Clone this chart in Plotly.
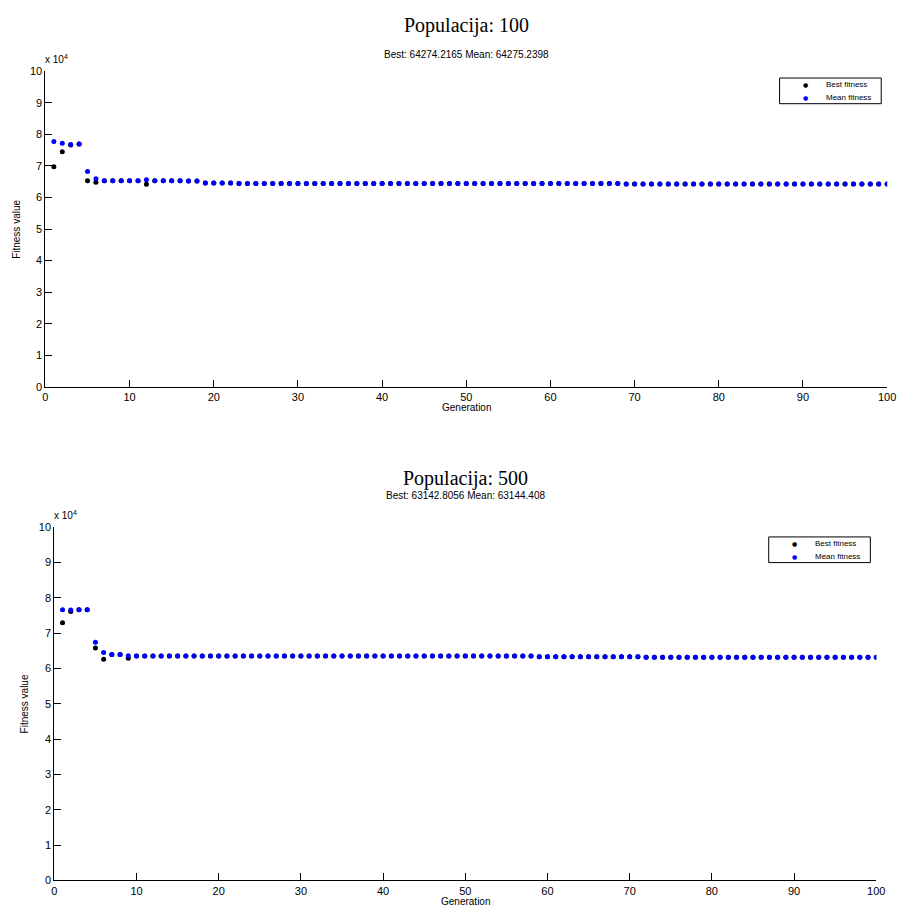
import plotly.graph_objects as go

# ---------------- data ----------------
generations = list(range(1, 101))

mean_100 = [
    77700, 77200, 76800, 76900, 68200, 65900, 65300, 65300, 65300, 65300,
    65300, 65600, 65300, 65300, 65300, 65300, 65200, 65200, 64550, 64550,
    64550, 64550, 64400, 64400, 64400, 64400, 64400, 64400, 64400, 64400,
    64400, 64400, 64400, 64400, 64400, 64400, 64400, 64400, 64400, 64400,
    64400, 64400, 64400, 64400, 64400, 64400, 64400, 64400, 64400, 64400,
    64400, 64400, 64400, 64400, 64400, 64400, 64400, 64400, 64400, 64400,
    64400, 64400, 64400, 64400, 64400, 64400, 64400, 64400, 64280, 64280,
    64280, 64280, 64280, 64280, 64280, 64280, 64280, 64280, 64280, 64280,
    64280, 64280, 64280, 64280, 64280, 64280, 64280, 64280, 64280, 64280,
    64280, 64280, 64280, 64280, 64280, 64280, 64280, 64280, 64280, 64275.2398,
]
best_100 = [
    69700, 74500, 76600, 76900, 65300, 64800, 65300, 65300, 65300, 65300,
    65300, 64200, 65300, 65300, 65300, 65300, 65200, 65200, 64550, 64550,
    64550, 64550, 64400, 64400, 64400, 64400, 64400, 64400, 64400, 64400,
    64400, 64400, 64400, 64400, 64400, 64400, 64400, 64400, 64400, 64400,
    64400, 64400, 64400, 64400, 64400, 64400, 64400, 64400, 64400, 64400,
    64400, 64400, 64400, 64400, 64400, 64400, 64400, 64400, 64400, 64400,
    64400, 64400, 64400, 64400, 64400, 64400, 64400, 64400, 64280, 64280,
    64280, 64280, 64280, 64280, 64280, 64280, 64280, 64280, 64280, 64280,
    64280, 64280, 64280, 64280, 64280, 64280, 64280, 64280, 64280, 64280,
    64280, 64280, 64280, 64280, 64280, 64280, 64280, 64280, 64280, 64274.2165,
]

mean_500 = [
    76600, 76500, 76600, 76600, 67400, 64500, 63900, 63900, 63600, 63500,
    63500, 63500, 63500, 63500, 63500, 63500, 63500, 63500, 63500, 63500,
    63500, 63500, 63500, 63500, 63500, 63500, 63500, 63500, 63500, 63500,
    63500, 63500, 63500, 63500, 63500, 63500, 63500, 63500, 63500, 63500,
    63500, 63500, 63500, 63500, 63500, 63500, 63500, 63500, 63500, 63500,
    63500, 63500, 63500, 63500, 63500, 63500, 63500, 63500, 63300, 63300,
    63300, 63300, 63300, 63300, 63300, 63300, 63300, 63300, 63300, 63300,
    63300, 63150, 63150, 63150, 63150, 63150, 63150, 63150, 63150, 63150,
    63150, 63150, 63150, 63150, 63150, 63150, 63150, 63150, 63150, 63150,
    63150, 63150, 63150, 63150, 63150, 63150, 63150, 63150, 63150, 63144.408,
]
best_500 = [
    72900, 76100, 76600, 76600, 65800, 62600, 63900, 63900, 62900, 63500,
    63500, 63500, 63500, 63500, 63500, 63500, 63500, 63500, 63500, 63500,
    63500, 63500, 63500, 63500, 63500, 63500, 63500, 63500, 63500, 63500,
    63500, 63500, 63500, 63500, 63500, 63500, 63500, 63500, 63500, 63500,
    63500, 63500, 63500, 63500, 63500, 63500, 63500, 63500, 63500, 63500,
    63500, 63500, 63500, 63500, 63500, 63500, 63500, 63500, 63300, 63300,
    63300, 63300, 63300, 63300, 63300, 63300, 63300, 63300, 63300, 63300,
    63300, 63150, 63150, 63150, 63150, 63150, 63150, 63150, 63150, 63150,
    63150, 63150, 63150, 63150, 63150, 63150, 63150, 63150, 63150, 63150,
    63150, 63150, 63150, 63150, 63150, 63150, 63150, 63150, 63150, 63142.8056,
]

titles = ["Populacija: 100", "Populacija: 500"]
subtitles = ["Best: 64274.2165 Mean: 64275.2398", "Best: 63142.8056 Mean: 63144.408"]
legend_labels = ["Best fitness", "Mean fitness"]
x_ticks = [0, 10, 20, 30, 40, 50, 60, 70, 80, 90, 100]
y_tickvals = [0, 10000, 20000, 30000, 40000, 50000, 60000, 70000, 80000, 90000, 100000]
y_ticktext = ["0", "1", "2", "3", "4", "5", "6", "7", "8", "9", "10"]

# ---------------- layout helpers ----------------
W, H = 906, 914
def px(x):
    return x / W
def py(y):
    return 1 - y / H

# axes boxes in pixels: (left, right, top, bottom)
boxes = [(43, 896, 66, 386), (52, 885, 528, 886)]
title_y = [20, 479]
sub_y = [49, 496]
# legend boxes in pixels: (left, right, top, bottom)
legend_boxes = [(787, 890, 73, 99), (776, 879, 538, 564)]

colors = ["black", "#0000ff"]

fig = go.Figure()

series = [(best_100, mean_100), (best_500, mean_500)]
for i, (best, mean) in enumerate(series):
    xa = "x" if i == 0 else "x2"
    ya = "y" if i == 0 else "y2"
    for j, vals in enumerate((best, mean)):
        fig.add_trace(go.Scatter(x=generations, y=vals, mode="markers", name=legend_labels[j],
                                 marker=dict(color=colors[j], size=5), xaxis=xa, yaxis=ya,
                                 showlegend=False, hoverinfo="x+y+name"))

tickfont = dict(family="Liberation Sans, Arial, Helvetica", size=11, color="black")
axis_common = dict(showline=True, linecolor="black", linewidth=1, mirror=False,
                   showgrid=False, zeroline=False, ticks="inside", ticklen=7,
                   tickcolor="black", tickwidth=1, tickfont=tickfont)

layout_axes = {}
for i, (l, r, t, b) in enumerate(boxes):
    sx = "xaxis" if i == 0 else "xaxis2"
    sy = "yaxis" if i == 0 else "yaxis2"
    layout_axes[sx] = dict(axis_common, domain=[px(l), px(r)], range=[0, 100],
                           tickvals=x_ticks, anchor="y" if i == 0 else "y2")
    layout_axes[sy] = dict(axis_common, domain=[py(b), py(t)], range=[0, 100000],
                           tickvals=y_tickvals, ticktext=y_ticktext,
                           anchor="x" if i == 0 else "x2")

annotations = []
shapes = []
small = dict(family="Liberation Sans, Arial", size=10, color="black")
for i, (l, r, t, b) in enumerate(boxes):
    cx = (l + r) / 2
    annotations.append(dict(text=titles[i], x=px(cx), y=py(title_y[i]), xref="paper", yref="paper",
                            showarrow=False, xanchor="center", yanchor="middle",
                            font=dict(family="Liberation Serif, Times New Roman, serif", size=20, color="black")))
    annotations.append(dict(text=subtitles[i], x=px(cx), y=py(sub_y[i]), xref="paper", yref="paper",
                            showarrow=False, xanchor="center", yanchor="middle", font=small))
    annotations.append(dict(text="Generation", x=px(cx), y=py(b + 21), xref="paper", yref="paper",
                            showarrow=False, xanchor="center", yanchor="middle", font=small))
    annotations.append(dict(text="Fitness value", x=px(l - 30), y=py((t + b) / 2), xref="paper", yref="paper",
                            showarrow=False, xanchor="center", yanchor="middle", textangle=-90, font=small))
    annotations.append(dict(text="x 10<sup>4</sup>", x=px(l - 2), y=py(t - 4), xref="paper", yref="paper",
                            showarrow=False, xanchor="left", yanchor="bottom", font=small))

    # compact MATLAB-style legend
    ll, lr, lt, lb = legend_boxes[i]
    shapes.append(dict(type="rect", xref="paper", yref="paper",
                       x0=px(ll), x1=px(lr), y0=py(lb), y1=py(lt),
                       line=dict(color="black", width=1), fillcolor="white", layer="above"))
    row_h = (lb - lt) / 2
    for j, lab in enumerate(legend_labels):
        ry = lt + row_h * (j + 0.5)
        annotations.append(dict(text="\u25cf", x=px(ll + 26), y=py(ry), xref="paper", yref="paper",
                                showarrow=False, xanchor="center", yanchor="middle",
                                font=dict(family="DejaVu Sans", size=6, color=colors[j])))
        annotations.append(dict(text=lab, x=px(ll + 45), y=py(ry), xref="paper", yref="paper",
                                showarrow=False, xanchor="left", yanchor="middle",
                                font=dict(family="Liberation Sans, Arial", size=8, color="black")))

fig.update_layout(
    width=W, height=H,
    margin=dict(l=0, r=0, t=0, b=0),
    paper_bgcolor="white", plot_bgcolor="white",
    showlegend=False,
    annotations=annotations,
    shapes=shapes,
    **layout_axes,
)

fig.write_html("out.html",
               config={"displayModeBar": False},
               post_script="document.body.style.margin='0';document.body.style.overflow='hidden';")
